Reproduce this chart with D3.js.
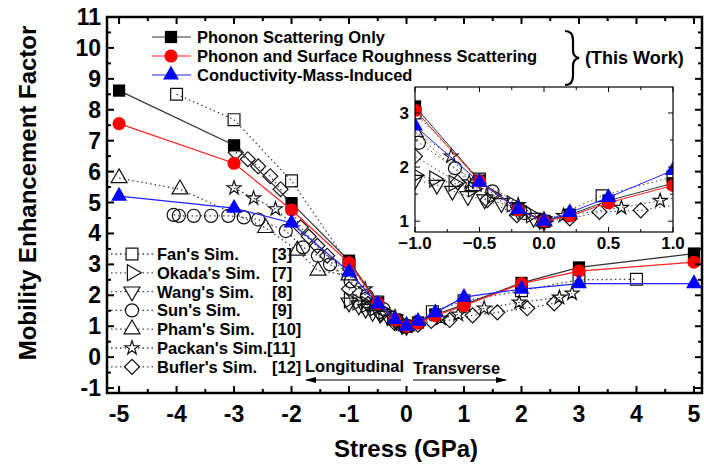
<!DOCTYPE html>
<html>
<head>
<meta charset="utf-8">
<script src="https://cdn.jsdelivr.net/npm/d3@7"></script>
<style>
  html, body { margin: 0; padding: 0; background: #fff; }
  svg { display: block; font-family: "Liberation Sans", Arial, sans-serif; }
</style>
</head>
<body>
<script>
// ---- data: mobility enhancement factor vs. stress (GPa) ----
const workX  = [-5, -3, -2, -1, -0.5, -0.2, 0, 0.2, 0.5, 1, 2, 3, 5];
const phononY = [8.62, 6.85, 4.98, 3.12, 1.75, 1.22, 1.0, 1.12, 1.38, 1.70, 2.40, 2.90, 3.35];
const roughY  = [7.55, 6.27, 4.76, 3.05, 1.74, 1.21, 1.0, 1.10, 1.34, 1.66, 2.38, 2.78, 3.07];
const cmiY    = [5.21, 4.82, 4.34, 2.76, 1.72, 1.22, 1.0, 1.16, 1.44, 1.94, 2.20, 2.38, 2.38];

const fanX = [-4, -3, -2, -1, -0.5, 0, 0.45, 1, 2, 3, 4];
const fanY = [8.5, 7.68, 5.7, 3.0, 1.78, 1.0, 1.47, 1.82, 2.15, 2.5, 2.52];
const okadaX = [-1.0, -0.85, -0.7, -0.55, -0.4, -0.25, -0.1, 0];
const okadaY = [1.85, 1.78, 1.7, 1.6, 1.48, 1.32, 1.12, 1.0];
const wangX = [-1.0, -0.83, -0.71, -0.59, -0.46, -0.33, -0.2, -0.08, 0];
const wangY = [1.76, 1.67, 1.56, 1.46, 1.4, 1.33, 1.2, 1.06, 1.0];
const sunX = [-4.05, -3.96, -3.7, -3.4, -3.1, -2.83, -2.58, -2.1, -1.8, -1.54, -1.33, -0.97, -0.69, -0.4, -0.15, 0];
const sunY = [4.6, 4.57, 4.57, 4.57, 4.57, 4.52, 4.45, 4.08, 3.55, 3.28, 3.0, 2.45, 1.98, 1.55, 1.15, 1.0];
const phamX = [-5, -3.94, -2.45, -1.9, -1.54, -1.0, -0.55, -0.2, 0];
const phamY = [5.79, 5.43, 4.18, 3.45, 2.8, 2.65, 1.65, 1.2, 1.0];
const packanX = [-3.0, -2.66, -2.28, -0.72, -0.58, -0.2, 0, 0.15, 0.6, 0.9, 1.35, 1.96, 2.66, 2.88];
const packanY = [5.47, 5.14, 4.79, 2.2, 1.72, 1.3, 1.02, 1.1, 1.25, 1.38, 1.58, 1.77, 1.93, 2.06];
const buflerX = [-2.97, -2.76, -2.58, -2.37, -2.19, -1.84, -1.7, -1.55, -1.38, -1.0, -0.67, -0.44, -0.21, 0, 0.2, 0.43, 0.75, 1.15, 1.58, 2.1, 2.57];
const buflerY = [6.62, 6.4, 6.17, 5.85, 5.43, 4.2, 3.9, 3.6, 3.28, 2.2, 1.72, 1.39, 1.11, 1.0, 1.05, 1.17, 1.2, 1.35, 1.45, 1.58, 1.74];

const xTicks = [-5, -4, -3, -2, -1, 0, 1, 2, 3, 4, 5];
const yTicks = [-1, 0, 1, 2, 3, 4, 5, 6, 7, 8, 9, 10, 11];
const insetXTicks = [-1.0, -0.5, 0.0, 0.5, 1.0];
const insetYTicks = [1, 2, 3];

const workLabels = ["Phonon Scattering Only", "Phonon and Surface Roughness Scattering", "Conductivity-Mass-Induced"];
const simLabels = ["Fan's Sim.", "Okada's Sim.", "Wang's Sim.", "Sun's Sim.", "Pham's Sim.", "Packan's Sim.", "Bufler's Sim."];
const simRefs = ["[3]", "[7]", "[8]", "[9]", "[10]", "[11]", "[12]"];

// ---- series definitions ----
const zip = (xs, ys) => xs.map((v, i) => [v, ys[i]]);
const sims = [
  { pts: zip(fanX, fanY),       sym: d3.symbolSquare,   size: 140, rot: 0 },
  { pts: zip(okadaX, okadaY),   sym: d3.symbolTriangle, size: 110, rot: 90 },
  { pts: zip(wangX, wangY),     sym: d3.symbolTriangle, size: 110, rot: 180 },
  { pts: zip(sunX, sunY),       sym: d3.symbolCircle,   size: 135, rot: 0 },
  { pts: zip(phamX, phamY),     sym: d3.symbolTriangle, size: 110, rot: 0 },
  { pts: zip(packanX, packanY), sym: d3.symbolStar,     size: 60,  rot: 0 },
  { pts: zip(buflerX, buflerY), sym: d3.symbolSquare,   size: 112, rot: 45 }
];
const work = [
  { pts: zip(workX, phononY), sym: d3.symbolSquare,   size: 150, color: "#000000", line: "#333333" },
  { pts: zip(workX, roughY),  sym: d3.symbolCircle,   size: 135, color: "#ff0000", line: "#ff2020" },
  { pts: zip(workX, cmiY),    sym: d3.symbolTriangle, size: 110, color: "#0000ff", line: "#2020ff" }
];

const W = 704, H = 468;
const svg = d3.select("body").append("svg").attr("width", W).attr("height", H);

// ---- main plot scales ----
const x = d3.scaleLinear().domain([-5.21, 5.14]).range([107, 702]);
const y = d3.scaleLinear().domain([-1.16, 11]).range([393, 17]);

function drawSeries(g, sx, sy, lineStyle) {
  const line = d3.line().x(d => sx(d[0])).y(d => sy(d[1]));
  // simulation results: dotted lines with open markers
  sims.forEach(s => {
    g.append("path").attr("d", line(s.pts)).attr("fill", "none")
      .attr("stroke", "#444").attr("stroke-width", lineStyle.simW)
      .attr("stroke-dasharray", "1.5,3");
  });
  sims.forEach(s => {
    g.selectAll(null).data(s.pts).enter().append("path")
      .attr("d", d3.symbol().type(s.sym).size(s.size))
      .attr("transform", d => `translate(${sx(d[0])},${sy(d[1])}) rotate(${s.rot})`)
      .attr("fill", "none").attr("stroke", "#111").attr("stroke-width", 1.2);
  });
  // this work: solid lines with filled markers
  work.forEach(s => {
    g.append("path").attr("d", line(s.pts)).attr("fill", "none")
      .attr("stroke", s.line).attr("stroke-width", lineStyle.workW);
    g.selectAll(null).data(s.pts).enter().append("path")
      .attr("d", d3.symbol().type(s.sym).size(s.size))
      .attr("transform", d => `translate(${sx(d[0])},${sy(d[1])})`)
      .attr("fill", s.color);
  });
}

// ---- main plot ----
const mainG = svg.append("g");
drawSeries(mainG, x, y, { simW: 1.3, workW: 1.2 });

// frame and inward ticks on all four sides
function ticks(g, scale, vals, orient, pos, len) {
  vals.forEach(v => {
    const p = scale(v);
    let l;
    if (orient === "bottom") l = [p, pos, p, pos - len];
    if (orient === "top")    l = [p, pos, p, pos + len];
    if (orient === "left")   l = [pos, p, pos + len, p];
    if (orient === "right")  l = [pos, p, pos - len, p];
    g.append("line").attr("x1", l[0]).attr("y1", l[1]).attr("x2", l[2]).attr("y2", l[3])
      .attr("stroke", "#000").attr("stroke-width", 2);
  });
}
const axisG = svg.append("g");
const xMinor = d3.range(-5, 5.01, 0.5).filter(v => !Number.isInteger(v));
const yMinor = d3.range(-0.5, 11, 1);
ticks(axisG, x, xTicks, "bottom", 393, 7);
ticks(axisG, x, xMinor, "bottom", 393, 4);
ticks(axisG, x, xTicks, "top", 17, 7);
ticks(axisG, x, xMinor, "top", 17, 4);
ticks(axisG, y, yTicks, "left", 107, 7);
ticks(axisG, y, yMinor, "left", 107, 4);
ticks(axisG, y, yTicks, "right", 702, 7);
ticks(axisG, y, yMinor, "right", 702, 4);
axisG.append("rect").attr("x", 107).attr("y", 17).attr("width", 595).attr("height", 376)
  .attr("fill", "none").attr("stroke", "#000").attr("stroke-width", 2.5);

axisG.selectAll(null).data(xTicks).enter().append("text")
  .attr("x", d => x(d)).attr("y", 422).attr("text-anchor", "middle")
  .attr("font-size", 23).attr("font-weight", "bold").text(d => d);
axisG.selectAll(null).data(yTicks).enter().append("text")
  .attr("x", 101).attr("y", d => y(d) + 8).attr("text-anchor", "end")
  .attr("font-size", 23).attr("font-weight", "bold").text(d => d);

svg.append("text").attr("x", 406).attr("y", 457).attr("text-anchor", "middle")
  .attr("font-size", 24).attr("font-weight", "bold").text("Stress (GPa)");
svg.append("text").attr("transform", "translate(36,193) rotate(-90)").attr("text-anchor", "middle")
  .attr("font-size", 24).attr("font-weight", "bold").text("Mobility Enhancement Factor");

// ---- top legend (this work) ----
const legTop = svg.append("g");
const legRows = [37, 56, 75];
work.forEach((s, i) => {
  legTop.append("line").attr("x1", 152).attr("x2", 191).attr("y1", legRows[i]).attr("y2", legRows[i])
    .attr("stroke", s.line).attr("stroke-width", 1.2);
  legTop.append("path").attr("d", d3.symbol().type(s.sym).size(s.size))
    .attr("transform", `translate(171,${legRows[i]})`).attr("fill", s.color);
  legTop.append("text").attr("x", 197).attr("y", legRows[i] + 6)
    .attr("font-size", 16.5).attr("font-weight", "bold").text(workLabels[i]);
});
legTop.append("path")
  .attr("d", "M565,31 Q573,31 573,40 L573,50 Q573,57 579,58 Q573,59 573,66 L573,76 Q573,85 565,85")
  .attr("fill", "none").attr("stroke", "#000").attr("stroke-width", 2.2);
legTop.append("text").attr("x", 585).attr("y", 64)
  .attr("font-size", 18).attr("font-weight", "bold").text("(This Work)");

// ---- bottom-left legend (simulations) ----
const legSim = svg.append("g");
const simRow0 = 254, simStep = 18.8;
sims.forEach((s, i) => {
  const yy = simRow0 + i * simStep;
  legSim.append("line").attr("x1", 111).attr("x2", 153).attr("y1", yy).attr("y2", yy)
    .attr("stroke", "#444").attr("stroke-width", 1.3).attr("stroke-dasharray", "1.5,3");
  legSim.append("path").attr("d", d3.symbol().type(s.sym).size(s.size))
    .attr("transform", `translate(132,${yy}) rotate(${s.rot})`)
    .attr("fill", "#fff").attr("stroke", "#111").attr("stroke-width", 1.2);
  legSim.append("text").attr("x", 157).attr("y", yy + 6)
    .attr("font-size", 16.5).attr("font-weight", "bold").text(simLabels[i]);
  legSim.append("text").attr("x", i === 5 ? 267 : 272).attr("y", yy + 6)
    .attr("font-size", 16.5).attr("font-weight", "bold").text(simRefs[i]);
});

// ---- strain direction arrows ----
const arrG = svg.append("g");
arrG.append("text").attr("x", 305).attr("y", 372).attr("font-size", 16.5).attr("font-weight", "bold").text("Longitudinal");
arrG.append("text").attr("x", 413).attr("y", 374).attr("font-size", 16.5).attr("font-weight", "bold").text("Transverse");
arrG.append("line").attr("x1", 306).attr("x2", 401).attr("y1", 380).attr("y2", 380).attr("stroke", "#000").attr("stroke-width", 1.2);
arrG.append("path").attr("d", "M305,380 L316,377 L316,383 Z").attr("fill", "#000");
arrG.append("line").attr("x1", 413).attr("x2", 506).attr("y1", 380).attr("y2", 380).attr("stroke", "#000").attr("stroke-width", 1.2);
arrG.append("path").attr("d", "M507,380 L496,377 L496,383 Z").attr("fill", "#000");

// ---- inset: zoom around zero stress ----
const xi = d3.scaleLinear().domain([-1, 1]).range([415, 673]);
const yi = d3.scaleLinear().domain([0.8, 3.48]).range([232, 87]);
svg.append("defs").append("clipPath").attr("id", "insetClip")
  .append("rect").attr("x", 415).attr("y", 87).attr("width", 258).attr("height", 145);
svg.append("rect").attr("x", 415).attr("y", 87).attr("width", 258).attr("height", 145).attr("fill", "#fff");
const insetG = svg.append("g").attr("clip-path", "url(#insetClip)");
drawSeries(insetG, xi, yi, { simW: 1.0, workW: 1.0 });

const insetAx = svg.append("g");
function ticksThin(scale, vals, orient, pos, len) {
  vals.forEach(v => {
    const p = scale(v);
    let l;
    if (orient === "bottom") l = [p, pos, p, pos - len];
    if (orient === "top")    l = [p, pos, p, pos + len];
    if (orient === "left")   l = [pos, p, pos + len, p];
    if (orient === "right")  l = [pos, p, pos - len, p];
    insetAx.append("line").attr("x1", l[0]).attr("y1", l[1]).attr("x2", l[2]).attr("y2", l[3])
      .attr("stroke", "#000").attr("stroke-width", 1);
  });
}
const ixMinor = [-0.75, -0.25, 0.25, 0.75];
const iyMinor = [1.5, 2.5];
ticksThin(xi, insetXTicks, "bottom", 232, 5);
ticksThin(xi, ixMinor, "bottom", 232, 3);
ticksThin(xi, insetXTicks, "top", 87, 5);
ticksThin(xi, ixMinor, "top", 87, 3);
ticksThin(yi, insetYTicks, "left", 415, 5);
ticksThin(yi, iyMinor, "left", 415, 3);
ticksThin(yi, insetYTicks, "right", 673, 5);
ticksThin(yi, iyMinor, "right", 673, 3);
insetAx.append("rect").attr("x", 415).attr("y", 87).attr("width", 258).attr("height", 145)
  .attr("fill", "none").attr("stroke", "#000").attr("stroke-width", 1.2);
insetAx.selectAll(null).data(insetXTicks).enter().append("text")
  .attr("x", d => xi(d)).attr("y", 249).attr("text-anchor", "middle")
  .attr("font-size", 17).attr("font-weight", "bold").text(d => d3.format(".1f")(d));
insetAx.selectAll(null).data(insetYTicks).enter().append("text")
  .attr("x", 409).attr("y", d => yi(d) + 6).attr("text-anchor", "end")
  .attr("font-size", 17).attr("font-weight", "bold").text(d => d);
</script>
</body>
</html>
